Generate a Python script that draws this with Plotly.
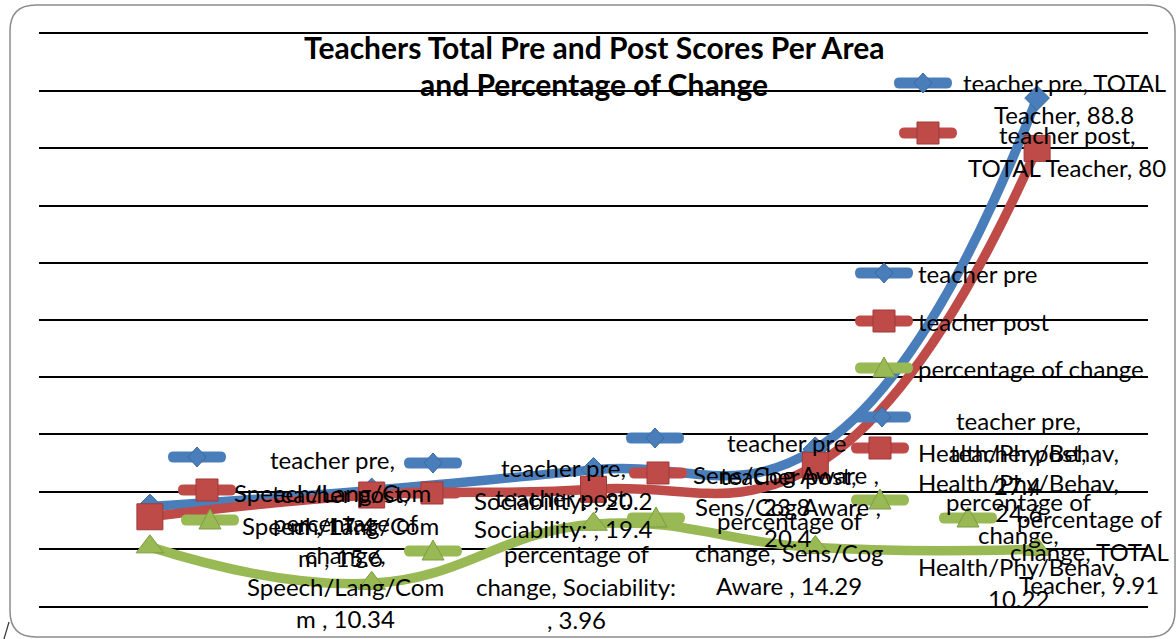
import plotly.graph_objects as go

# ---------------- data ----------------
categories = ["Speech/Lang/Comm", "Sociability:", "Sens/Cog Aware", "Health/Phy/Behav", "TOTAL Teacher"]
teacher_pre = [17.4, 20.2, 23.8, 27.4, 88.8]
teacher_post = [15.6, 19.4, 20.4, 24.6, 80]
pct_change = [10.34, 3.96, 14.29, 10.22, 9.91]
series_names = ["teacher pre", "teacher post", "percentage of change"]
y_ticks = [0, 10, 20, 30, 40, 50, 60, 70, 80, 90, 100]
title_lines = ["Teachers Total Pre and Post Scores Per Area", "and Percentage of Change"]

series_values = [teacher_pre, teacher_post, pct_change]

# ---------------- style ----------------
COLORS = ["#4A7EBB", "#BE4B48", "#98B954"]
DARK = ["#3A6AA3", "#A03A38", "#7E9C42"]
SYMBOLS = ["diamond", "square", "triangle-up"]
SIZES = [19, 26, 24]
FONT = "Lato"
FS = 24

W_FIG, H_FIG = 1176, 639
L, T, R, B = 39, 34, 28, 33
PW, PH = W_FIG - L - R, H_FIG - T - B


def px(x):
    return (x - L) / PW


def py(y):
    return (T + PH - y) / PH


def path_from(points, close=True):
    s = ""
    for i, p in enumerate(points):
        if p[0] == "Q":
            _, (cx, cy), (ex, ey) = p
            s += f" Q{px(cx):.5f},{py(cy):.5f} {px(ex):.5f},{py(ey):.5f}"
        else:
            x, y = p
            s += (" M" if i == 0 else " L") + f"{px(x):.5f},{py(y):.5f}"
    return s + (" Z" if close else "")


def rrect(x0, y0, x1, y1, r):
    pts = [
        (x0 + r, y0), (x1 - r, y0), ("Q", (x1, y0), (x1, y0 + r)),
        (x1, y1 - r), ("Q", (x1, y1), (x1 - r, y1)),
        (x0 + r, y1), ("Q", (x0, y1), (x0, y1 - r)),
        (x0, y0 + r), ("Q", (x0, y0), (x0 + r, y0)),
    ]
    return path_from(pts)


fig = go.Figure()
for i in range(3):
    fig.add_trace(go.Scatter(
        x=categories, y=series_values[i], name=series_names[i],
        mode="lines+markers",
        line=dict(color=COLORS[i], width=9.5, shape="spline", smoothing=1.25),
        marker=dict(symbol=SYMBOLS[i], size=SIZES[i], color=COLORS[i],
                    line=dict(color=DARK[i], width=1)),
        showlegend=False,
    ))

shapes = []
annotations = []

# outer rounded chart border
shapes.append(dict(type="path", xref="paper", yref="paper",
                   path=rrect(10, 5, 1175, 637, 26),
                   line=dict(color="#8C8C8C", width=1.5), fillcolor="rgba(0,0,0,0)",
                   layer="below"))
# stray slash at bottom-left corner
shapes.append(dict(type="line", xref="paper", yref="paper",
                   x0=px(4), y0=py(639), x1=px(9), y1=py(622),
                   line=dict(color="#333333", width=1.2)))


def key_icon(s, cx, cy):
    shapes.append(dict(type="path", xref="paper", yref="paper",
                       path=rrect(cx - 29, cy - 5.5, cx + 29, cy + 5.5, 5.5),
                       fillcolor=COLORS[s], line=dict(width=0)))
    if s == 0:
        pts = [(cx, cy - 10), (cx + 9, cy), (cx, cy + 10), (cx - 9, cy)]
    elif s == 1:
        pts = [(cx - 11, cy - 11), (cx + 11, cy - 11), (cx + 11, cy + 11), (cx - 11, cy + 11)]
    else:
        pts = [(cx, cy - 11), (cx + 11, cy + 9), (cx - 11, cy + 9)]
    shapes.append(dict(type="path", xref="paper", yref="paper", path=path_from(pts),
                       fillcolor=COLORS[s], line=dict(color=DARK[s], width=1)))


def text_line(txt, x, y, anchor="center", size=FS, bold=False):
    annotations.append(dict(text=txt, xref="paper", yref="paper", x=px(x), y=py(y),
                            xanchor=anchor, yanchor="middle", showarrow=False,
                            font=dict(family=FONT, size=size, color="black",
                                      weight="bold" if bold else "normal")))


def v(x):
    return f"{x:g}"


# data labels: (series, icon x, icon y, text centre x, first line y, line step, lines)
labels = [
    (0, 197, 457, 332, 459, 33, ["teacher pre,", "Speech/Lang/Com", f"m , {v(teacher_pre[0])}"]),
    (1, 207, 490, 340, 493, 32, ["teacher post,", "Speech/Lang/Com", f"m , {v(teacher_post[0])}"]),
    (2, 210, 520, 345, 522, 32, ["percentage of", "change,", "Speech/Lang/Com", f"m , {v(pct_change[0])}"]),
    (0, 433, 463, 563, 467, 33, ["teacher pre,", f"Sociability: , {v(teacher_pre[1])}"]),
    (1, 432, 493, 563, 497, 31, ["teacher post,", f"Sociability: , {v(teacher_post[1])}"]),
    (2, 433, 551, 576, 553, 33.5, ["percentage of", "change, Sociability:", f", {v(pct_change[1])}"]),
    (0, 655, 438, 786, 442, 32.5, ["teacher pre", "Sens/Cog Aware ,", v(teacher_pre[2])]),
    (1, 658, 473, 788, 475, 31, ["teacher post,", "Sens/Cog Aware ,", v(teacher_post[2])]),
    (2, 656, 518, 789, 520, 32.5, ["percentage of", "change, Sens/Cog", f"Aware , {v(pct_change[2])}"]),
    (0, 882, 417, 1018, 420, 32.5, ["teacher pre,", "Health/Phy/Behav,", v(teacher_pre[3])]),
    (1, 880, 448, 1018, 452, 30, ["teacher post,", "Health/Phy/Behav,", v(teacher_post[3])]),
    (2, 880, 500, 1018, 502, 32, ["percentage of", "change,", "Health/Phy/Behav,", v(pct_change[3])]),
    (0, 923, 83, 1064, 83, 32, ["teacher pre, TOTAL", f"Teacher, {v(teacher_pre[4])}"]),
    (1, 928, 133, 1067, 134, 33, ["teacher post,", f"TOTAL Teacher, {v(teacher_post[4])}"]),
    (2, 968, 518, 1089, 518, 33, ["percentage of", "change, TOTAL", f"Teacher, {v(pct_change[4])}"]),
]
for s, ix, iy, tx, ty, step, lines in labels:
    key_icon(s, ix, iy)
    for k, ln in enumerate(lines):
        text_line(ln, tx, ty + k * step)

# legend
legend_y = [273, 321, 368]
for s in range(3):
    key_icon(s, 884, legend_y[s])
    text_line(series_names[s], 916, legend_y[s], anchor="left")

# title
text_line(title_lines[0], 594, 47, size=30, bold=True)
text_line(title_lines[1], 594, 84, size=30, bold=True)

fig.update_layout(
    width=W_FIG, height=H_FIG,
    margin=dict(l=L, r=R, t=T, b=B, pad=0),
    paper_bgcolor="white", plot_bgcolor="white",
    shapes=shapes, annotations=annotations,
    xaxis=dict(type="category", range=[-0.5, len(categories) - 0.5],
               showticklabels=False, showgrid=False, zeroline=False,
               showline=True, mirror=True, linecolor="black", linewidth=1.5,
               ticks=""),
    yaxis=dict(range=[y_ticks[0], y_ticks[-1]], tickvals=y_ticks,
               showticklabels=False, showgrid=True, gridcolor="black", gridwidth=1.5,
               zeroline=False, showline=False, ticks=""),
    showlegend=False,
)

fig.write_html("out.html", config={"displayModeBar": False},
               post_script="document.body.style.margin='0';document.body.style.overflow='hidden';")
